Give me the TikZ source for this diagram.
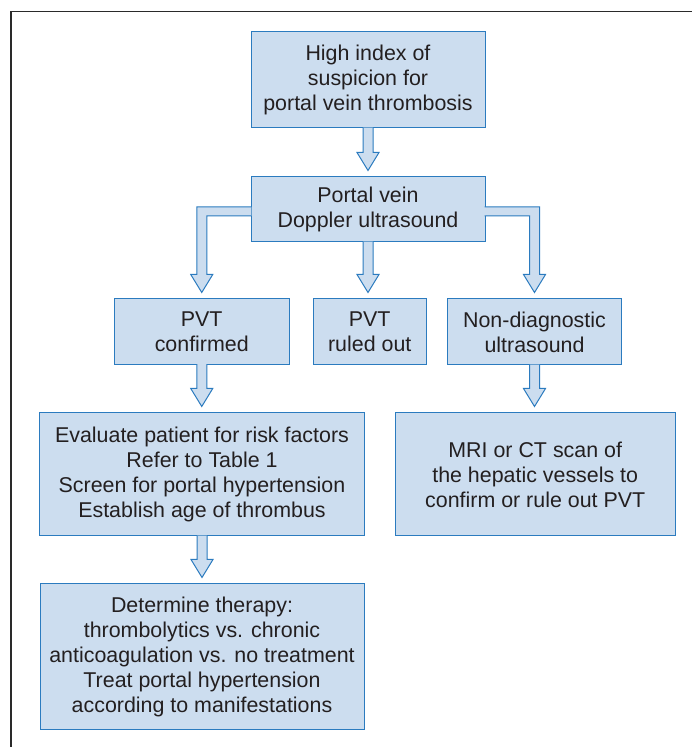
\documentclass[tikz,border=0pt]{standalone}
\usepackage{fontspec}
\setmainfont{Liberation Sans}
\usetikzlibrary{calc}
\definecolor{boxfill}{HTML}{CCDDEF}
\definecolor{boxline}{HTML}{2B7BBF}
\definecolor{txt}{HTML}{231F20}
\definecolor{framecol}{HTML}{2A2A2A}
\newcommand\vconn[2]{%
  \draw[conn] let \p1=(#1.south), \p2=(#2.north) in
    (\x1-5pt,\y1+0.8pt) -- (\x1-5pt,\y2+24pt) -- (\x1-11pt,\y2+24pt) --
    (\x1,\y2+6pt) -- (\x1+11pt,\y2+24pt) -- (\x1+5pt,\y2+24pt) --
    (\x1+5pt,\y1+0.8pt);}
\begin{document}
\begin{tikzpicture}[x=1pt,y=1pt,
  box/.style 2 args={draw=boxline, fill=boxfill, line width=1pt, align=center,
    text=txt, font=\fontsize{21.4}{25.1}\selectfont, inner sep=0pt,
    minimum width=#1, minimum height=#2},
  conn/.style={draw=boxline, fill=boxfill, line width=1pt, line join=miter}]
\useasboundingbox (0,0) rectangle (691,747);
% frame
\draw[framecol, line width=1.3pt] (11,-2) -- (11,735.3) -- (693,735.3);
% boxes
\node[box={234pt}{96pt}] (b1) at (368,667) {High index of\\suspicion for\\portal vein thrombosis};
\node[box={234pt}{65pt}] (b2) at (368,537.5) {Portal vein\\Doppler ultrasound};
\node[box={174.5pt}{65.5pt}] (b3) at (201.75,415.25) {PVT\\confirmed};
\node[box={112.5pt}{66pt}] (b4) at (369.75,415) {PVT\\ruled out};
\node[box={174pt}{66pt}] (b5) at (534.5,415) {Non-diagnostic\\ultrasound};
\node[box={325pt}{123pt}] (b6) at (202,272.5) {Evaluate patient for risk factors\\Refer to Table 1\\Screen for portal hypertension\\Establish age of thrombus};
\node[box={279.7pt}{123pt}] (b7) at (535.2,272.5) {MRI or CT scan of\\the hepatic vessels to\\confirm or rule out PVT};
\node[box={324pt}{146pt}] (b8) at (202,90) {Determine therapy:\\thrombolytics vs. chronic\\anticoagulation vs. no treatment\\Treat portal hypertension\\according to manifestations};
% straight connectors
\vconn{b1}{b2}
\vconn{b2}{b4}
\vconn{b3}{b6}
\vconn{b5}{b7}
\vconn{b6}{b8}
% branch connectors
\draw[conn] let \p1=(b2.west), \p2=(b3.north) in
  (\x1+0.8pt,\y1+2.5pt) -- (\x2-5pt,\y1+2.5pt) -- (\x2-5pt,\y2+24pt) -- (\x2-11pt,\y2+24pt) --
  (\x2,\y2+6pt) -- (\x2+11pt,\y2+24pt) -- (\x2+5pt,\y2+24pt) -- (\x2+5pt,\y1-6.5pt) --
  (\x1+0.8pt,\y1-6.5pt);
\draw[conn] let \p1=(b2.east), \p2=(b5.north) in
  (\x1-0.8pt,\y1+2.5pt) -- (\x2+5pt,\y1+2.5pt) -- (\x2+5pt,\y2+24pt) -- (\x2+11pt,\y2+24pt) --
  (\x2,\y2+6pt) -- (\x2-11pt,\y2+24pt) -- (\x2-5pt,\y2+24pt) -- (\x2-5pt,\y1-6.5pt) --
  (\x1-0.8pt,\y1-6.5pt);
\end{tikzpicture}
\end{document}
